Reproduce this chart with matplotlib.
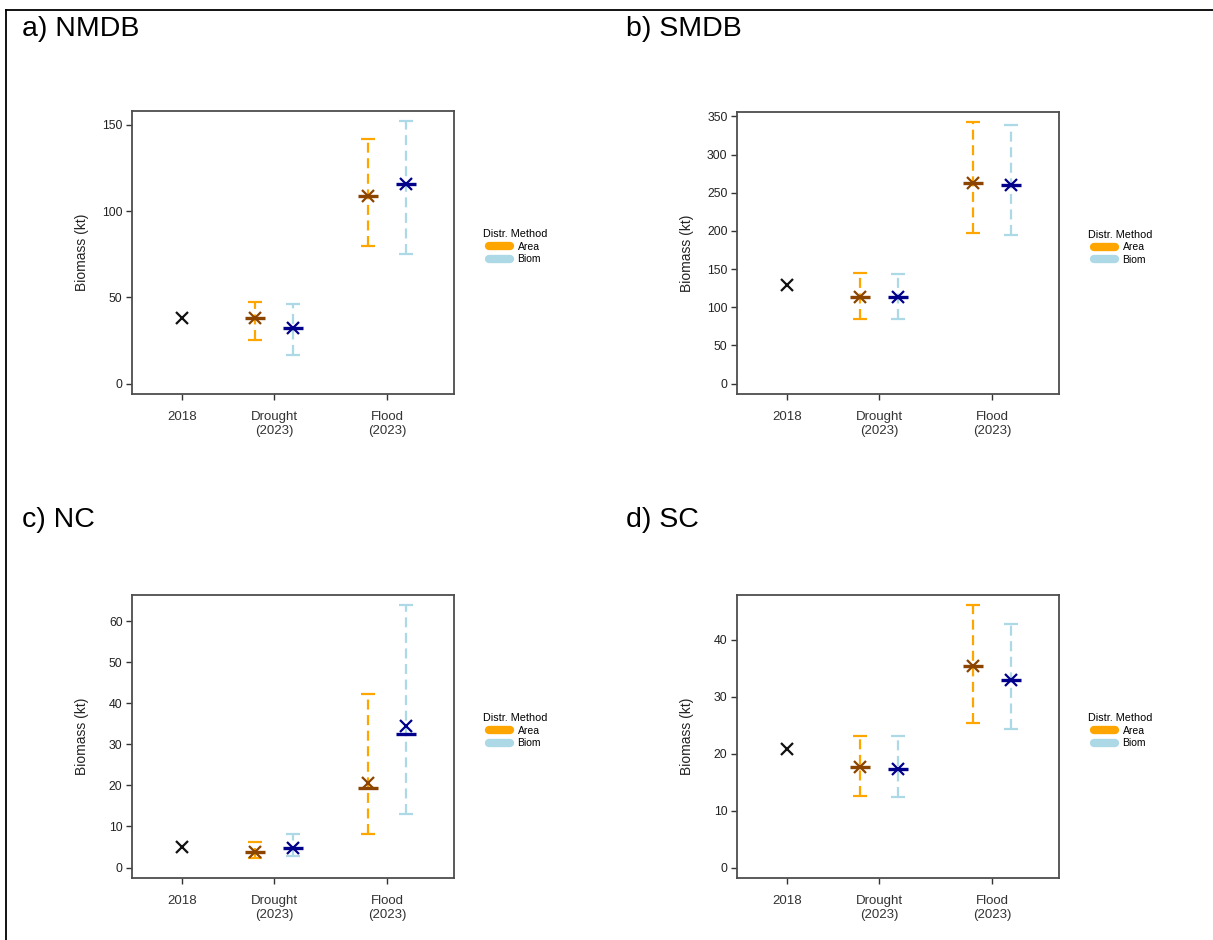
import numpy as np
import matplotlib
matplotlib.use("Agg")
import matplotlib.pyplot as plt
from matplotlib.lines import Line2D

plt.rcParams['font.family'] = ['Liberation Sans', 'DejaVu Sans']

# regions, in panel order a-d
regions = ["a) NMDB", "b) SMDB", "c) NC", "d) SC"]
categories = ["2018", "Drought\n(2023)", "Flood\n(2023)"]
yticks = [[0, 50, 100, 150],
          [0, 50, 100, 150, 200, 250, 300, 350],
          [0, 10, 20, 30, 40, 50, 60],
          [0, 10, 20, 30, 40]]

# 2018 estimate (single value per region)
base_2018 = [38, 129, 5.0, 20.8]

# 2023 scenarios [drought, flood], area-based distribution
area_mean = [[38, 109], [113, 262.7], [3.9, 20.6], [17.7, 35.4]]
area_median = [[38, 109], [113, 262.7], [3.7, 19.3], [17.7, 35.4]]
area_lo = [[25, 79.5], [85, 196.7], [2.4, 8.2], [12.55, 25.4]]
area_hi = [[47, 142], [144.6, 342], [6.3, 42.2], [23.1, 46.0]]

# 2023 scenarios [drought, flood], biomass-based distribution
biom_mean = [[32.3, 115.6], [113, 260.6], [4.85, 34.5], [17.3, 32.9]]
biom_median = [[32.3, 115.6], [113, 260.6], [4.8, 32.5], [17.3, 32.9]]
biom_lo = [[16.6, 75.3], [85, 195], [2.8, 13.1], [12.4, 24.3]]
biom_hi = [[46, 152], [144, 339], [8.05, 63.8], [23.06, 42.7]]

W, H = 1213, 940
fig = plt.figure(figsize=(W / 100, H / 100), dpi=100)

# axes boxes in pixels: left, right, top, bottom
boxes = [(132, 454, 111, 394), (737, 1059, 112, 394),
         (132, 454, 595, 878), (737, 1059, 595, 878)]
title_pos = [(22, 36), (626, 36), (22, 527), (626, 527)]

x_pos = np.array([1.0, 2.0, 3.23])
off = 0.21
c_area_bar, c_area_pt = '#FFA500', '#8B4500'
c_biom_bar, c_biom_pt = '#ADD8E6', '#00008B'
dash = (0, (4.5, 2.5))

for i in range(4):
    l, r, t, b = boxes[i]
    ax = fig.add_axes([l / W, 1 - b / H, (r - l) / W, (b - t) / H])

    xs_area = x_pos[1:] - off
    xs_biom = x_pos[1:] + off
    for xs, mean, med, lo, hi, cbar, cpt in [
            (xs_area, area_mean[i], area_median[i], area_lo[i], area_hi[i], c_area_bar, c_area_pt),
            (xs_biom, biom_mean[i], biom_median[i], biom_lo[i], biom_hi[i], c_biom_bar, c_biom_pt)]:
        mean = np.array(mean)
        err = [mean - np.array(lo), np.array(hi) - mean]
        eb = ax.errorbar(xs, mean, yerr=err, fmt='none', ecolor=cbar,
                         elinewidth=1.6, capsize=5, capthick=1.6)
        eb[2][0].set_linestyle(dash)
        ax.plot(xs, med, linestyle='none', marker='_', ms=15, mew=2.4, color=cpt)
        ax.plot(xs, mean, linestyle='none', marker='x', ms=9, mew=1.6, color=cpt)

    ax.plot(x_pos[0], base_2018[i], linestyle='none', marker='x', ms=9, mew=1.6,
            color='#111111')

    top = max(max(area_hi[i]), max(biom_hi[i]))
    ax.set_ylim(-0.04 * top, 1.04 * top)
    ax.set_xlim(0.457, 3.957)
    ax.set_yticks(yticks[i])
    ax.set_xticks(x_pos)
    ax.set_xticklabels(categories, fontsize=9.5, color='#222222')
    ax.tick_params(axis='y', labelsize=8.8, length=4.3, width=1, pad=2.5,
                   colors='#333333', labelcolor='#222222')
    ax.tick_params(axis='x', length=4.3, width=1, pad=8, colors='#333333')
    for s in ax.spines.values():
        s.set_color('#4d4d4d')
        s.set_linewidth(1.3)
    ax.text(-50 / (r - l), 0.5, "Biomass (kt)", rotation=90, ha='center',
            va='center', fontsize=10, color='#222222', transform=ax.transAxes)

    handles = [Line2D([0], [0], color=c_area_bar, lw=6, solid_capstyle='round'),
               Line2D([0], [0], color=c_biom_bar, lw=6, solid_capstyle='round')]
    ax.legend(handles, ["Area", "Biom"], title="Distr. Method",
              loc='center', bbox_to_anchor=(1.19, 0.52), frameon=False,
              fontsize=7.5, title_fontsize=7.8, handlelength=2.0,
              handletextpad=0.7, labelspacing=0.25)

    tx, ty = title_pos[i]
    fig.text(tx / W, 1 - ty / H, regions[i], fontsize=20.5, va='baseline',
             ha='left', color='black')

# outer frame lines (top and left)
fig.add_artist(Line2D([6 / W, 1], [1 - 10 / H, 1 - 10 / H], color='black',
                      lw=1.3, transform=fig.transFigure))
fig.add_artist(Line2D([6 / W, 6 / W], [0, 1 - 10 / H], color='black',
                      lw=1.3, transform=fig.transFigure))

fig.savefig("out.png", dpi=100)
